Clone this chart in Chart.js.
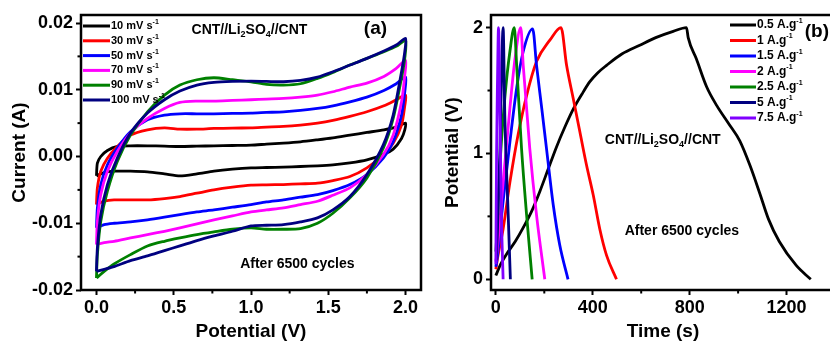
<!DOCTYPE html>
<html>
<head>
<meta charset="utf-8">
<script src="https://cdn.jsdelivr.net/npm/chart.js@4.4.0/dist/chart.umd.min.js"></script>
<style>
  html, body { margin: 0; padding: 0; background: #fff; overflow: hidden; width: 830px; height: 343px; }
  #wrapA { position: absolute; left: 0; top: 0; width: 425px; height: 343px; }
  #wrapB { position: absolute; left: 425px; top: 0; width: 420px; height: 343px; }
</style>
</head>
<body>
<div id="wrapA"><canvas id="cvChart"></canvas></div>
<div id="wrapB"><canvas id="gcdChart"></canvas></div>
<script>
// ---- (a) cyclic voltammetry, potential (V) / current (A) ----
const cvPotentialFwd = [0, 0.006, 0.028, 0.071, 0.135, 0.22, 0.33, 0.44, 0.54, 0.65, 0.76, 0.88, 1.0, 1.1, 1.21, 1.32, 1.43, 1.53, 1.64, 1.75, 1.86, 1.94, 2.0];
const cvPotentialRev = [1.995, 1.974, 1.92, 1.856, 1.75, 1.64, 1.53, 1.43, 1.32, 1.21, 1.1, 1.0, 0.88, 0.76, 0.65, 0.54, 0.44, 0.33, 0.22, 0.114, 0.05, 0];

const cv10Fwd = [-0.0029, -0.0010, 0.0000, 0.0009, 0.0015, 0.0016, 0.0016, 0.00155, 0.0015, 0.00155, 0.0016, 0.00165, 0.0017, 0.00185, 0.0020, 0.0022, 0.0025, 0.0028, 0.0032, 0.0036, 0.0040, 0.0044, 0.0050];
const cv10Rev = [0.0040, 0.0027, 0.0011, 0.0003, -0.0005, -0.00095, -0.00125, -0.0014, -0.0015, -0.0016, -0.00165, -0.0017, -0.0019, -0.0022, -0.0026, -0.0029, -0.0026, -0.0023, -0.0022, -0.0022, -0.0024, -0.0029];
const cv30Fwd = [-0.0072, -0.0047, -0.0022, -0.00025, 0.0015, 0.0032, 0.0040, 0.0043, 0.0041, 0.0041, 0.0042, 0.00425, 0.0043, 0.0044, 0.0045, 0.0047, 0.0050, 0.0054, 0.0060, 0.0067, 0.0076, 0.0085, 0.0092];
const cv30Rev = [0.0076, 0.0047, 0.0020, 0.00025, -0.0017, -0.0030, -0.0036, -0.0040, -0.0041, -0.0042, -0.00425, -0.0043, -0.0046, -0.0050, -0.0055, -0.0060, -0.0063, -0.0065, -0.0065, -0.0065, -0.0067, -0.0072];
const cv50Fwd = [-0.0107, -0.0077, -0.0042, -0.00125, 0.00125, 0.0037, 0.0055, 0.0062, 0.0064, 0.0064, 0.0064, 0.00645, 0.0065, 0.0066, 0.0067, 0.0069, 0.0072, 0.0076, 0.0082, 0.0089, 0.0099, 0.0109, 0.0119];
const cv50Rev = [0.0097, 0.0062, 0.0022, -0.00025, -0.0027, -0.0042, -0.0051, -0.0057, -0.0061, -0.0065, -0.0068, -0.0072, -0.0076, -0.0080, -0.0083, -0.0087, -0.0091, -0.0095, -0.0098, -0.0100, -0.0102, -0.0107];
const cv70Fwd = [-0.0132, -0.0097, -0.0057, -0.0022, 0.00075, 0.0035, 0.0057, 0.0072, 0.0081, 0.0083, 0.0083, 0.0084, 0.0085, 0.0086, 0.0087, 0.0089, 0.0092, 0.0097, 0.0104, 0.0110, 0.0120, 0.0132, 0.0144];
const cv70Rev = [0.0122, 0.0082, 0.0032, 0.00025, -0.0027, -0.0047, -0.0058, -0.0067, -0.0072, -0.0077, -0.0080, -0.0083, -0.0089, -0.0095, -0.0101, -0.0107, -0.0112, -0.0117, -0.0122, -0.0127, -0.0129, -0.0132];
const cv90Fwd = [-0.0182, -0.0147, -0.0097, -0.0052, -0.00075, 0.0032, 0.0067, 0.0092, 0.0107, 0.0115, 0.0118, 0.0115, 0.0112, 0.0108, 0.0107, 0.0109, 0.0117, 0.0126, 0.0137, 0.0147, 0.0157, 0.0165, 0.0174];
const cv90Rev = [0.0147, 0.0118, 0.0057, 0.00125, -0.0032, -0.0062, -0.0085, -0.0100, -0.0108, -0.0109, -0.0109, -0.0107, -0.0109, -0.0113, -0.0117, -0.0122, -0.0127, -0.0134, -0.0147, -0.0161, -0.0172, -0.0182];
const cv100Fwd = [-0.0172, -0.0137, -0.0087, -0.0042, -0.00025, 0.0035, 0.0065, 0.0085, 0.0098, 0.0107, 0.0111, 0.01125, 0.0113, 0.01125, 0.0112, 0.0114, 0.0119, 0.0127, 0.0137, 0.0147, 0.0158, 0.0167, 0.0177];
const cv100Rev = [0.0157, 0.0127, 0.0062, 0.00175, -0.0027, -0.0060, -0.0080, -0.0092, -0.0098, -0.0102, -0.0103, -0.0104, -0.0112, -0.0119, -0.0126, -0.0134, -0.0141, -0.0149, -0.0156, -0.0165, -0.0169, -0.0172];

const cvLabels = ['10 mV s^{-1}', '30 mV s^{-1}', '50 mV s^{-1}', '70 mV s^{-1}', '90 mV s^{-1}', '100 mV s^{-1}'];
const cvFwd = [cv10Fwd, cv30Fwd, cv50Fwd, cv70Fwd, cv90Fwd, cv100Fwd];
const cvRev = [cv10Rev, cv30Rev, cv50Rev, cv70Rev, cv90Rev, cv100Rev];
const cvColors = ['#000000', '#ff0000', '#0000ff', '#ff00ff', '#008000', '#000080'];

const cvTicksV = [0, 0.5, 1, 1.5, 2];
const cvTickLabelsV = ['0.0', '0.5', '1.0', '1.5', '2.0'];
const cvMinorV = [0.25, 0.75, 1.25, 1.75];
const cvTicksI = [-0.02, -0.01, 0, 0.01, 0.02];
const cvTickLabelsI = ['-0.02', '-0.01', '0.00', '0.01', '0.02'];
const cvMinorI = [-0.015, -0.005, 0.005, 0.015];

// ---- (b) galvanostatic charge/discharge, time (s) / potential (V) ----
const gcd05T = [0, 20, 44, 80, 113, 150, 182, 215, 250, 285, 319, 355, 388, 420, 457, 520, 594, 660, 732, 787, 794, 828, 870, 912, 960, 1007, 1050, 1090, 1125, 1170, 1240, 1300];
const gcd05V = [0.03, 0.12, 0.2, 0.3, 0.41, 0.55, 0.70, 0.87, 1.05, 1.21, 1.35, 1.47, 1.57, 1.64, 1.70, 1.79, 1.86, 1.92, 1.97, 2.0, 1.92, 1.75, 1.53, 1.38, 1.24, 1.10, 0.90, 0.68, 0.48, 0.30, 0.11, 0.0];
const gcd1T = [0, 8, 30, 58, 92, 127, 168, 223, 269, 292, 319, 347, 374, 402, 429, 457, 498];
const gcd1V = [0.08, 0.18, 0.40, 0.77, 1.15, 1.46, 1.73, 1.90, 2.0, 1.70, 1.44, 1.17, 0.91, 0.67, 0.40, 0.19, 0.0];
const gcd15T = [0, 5, 30, 58, 86, 113, 152, 168, 190, 209, 237, 264, 298];
const gcd15V = [0.10, 0.16, 0.62, 1.09, 1.52, 1.81, 1.99, 1.70, 1.35, 1.04, 0.59, 0.27, 0.0];
const gcd2T = [0, 5, 30, 58, 79, 103, 113, 140, 168, 202];
const gcd2V = [0.14, 0.22, 0.77, 1.36, 1.75, 2.0, 1.70, 1.04, 0.51, 0.0];
const gcd25T = [0, 3, 17, 37, 58, 76, 86, 106, 127, 150];
const gcd25V = [0.22, 0.32, 0.91, 1.44, 1.81, 2.0, 1.70, 1.04, 0.51, 0.0];
const gcd5T = [2, 5, 17, 26, 30, 37, 51, 60];
const gcd5V = [0.15, 0.3, 1.04, 1.83, 2.0, 1.30, 0.51, 0.0];
const gcd75T = [0, 3, 7, 11, 17, 23, 30];
const gcd75V = [0.12, 1.0, 1.6, 2.0, 1.3, 0.51, 0.0];

const gcdLabels = ['0.5 A.g^{-1}', '1 A.g^{-1}', '1.5 A.g^{-1}', '2 A.g^{-1}', '2.5 A.g^{-1}', '5 A.g^{-1}', '7.5 A.g^{-1}'];
const gcdTimes = [gcd05T, gcd1T, gcd15T, gcd2T, gcd25T, gcd5T, gcd75T];
const gcdPotentials = [gcd05V, gcd1V, gcd15V, gcd2V, gcd25V, gcd5V, gcd75V];
const gcdColors = ['#000000', '#ff0000', '#0000ff', '#ff00ff', '#008000', '#000080', '#8000ff'];

const gcdTicksT = [0, 400, 800, 1200];
const gcdTickLabelsT = ['0', '400', '800', '1200'];
const gcdMinorT = [200, 600, 1000];
const gcdTicksV = [0, 1, 2];
const gcdTickLabelsV = ['0', '1', '2'];
const gcdMinorV = [0.5, 1.5];

const FONT = "'Liberation Sans', Arial, sans-serif";

// text with _{sub} and ^{sup} parts
function richParts(str) {
  const parts = [];
  const re = /([_^])\{([^}]*)\}/g;
  let last = 0, m;
  while ((m = re.exec(str))) {
    if (m.index > last) parts.push({ text: str.slice(last, m.index), mode: '' });
    parts.push({ text: m[2], mode: m[1] });
    last = re.lastIndex;
  }
  if (last < str.length) parts.push({ text: str.slice(last), mode: '' });
  return parts;
}

function drawRich(ctx, str, x, y, size, align) {
  const parts = richParts(str);
  const small = Math.round(size * 0.62);
  let w = 0;
  parts.forEach(p => {
    ctx.font = 'bold ' + (p.mode ? small : size) + 'px ' + FONT;
    p.w = ctx.measureText(p.text).width;
    w += p.w;
  });
  let cx = align === 'center' ? x - w / 2 : x;
  ctx.textAlign = 'left';
  ctx.textBaseline = 'middle';
  parts.forEach(p => {
    ctx.font = 'bold ' + (p.mode ? small : size) + 'px ' + FONT;
    const dy = p.mode === '_' ? size * 0.32 : (p.mode === '^' ? -size * 0.36 : 0);
    ctx.fillText(p.text, cx, y + dy);
    cx += p.w;
  });
}

const decor = {
  id: 'decor',
  afterDraw(chart, args, opts) {
    const { ctx, chartArea: a } = chart;
    const x = chart.scales.x, y = chart.scales.y;
    ctx.save();
    ctx.strokeStyle = '#000';
    ctx.lineWidth = 2;
    opts.minorX.forEach(v => {
      const px = x.getPixelForValue(v);
      ctx.beginPath(); ctx.moveTo(px, a.bottom); ctx.lineTo(px, a.bottom + 3.5); ctx.stroke();
    });
    opts.minorY.forEach(v => {
      const py = y.getPixelForValue(v);
      ctx.beginPath(); ctx.moveTo(a.left, py); ctx.lineTo(a.left - 3.5, py); ctx.stroke();
    });
    ctx.lineWidth = 2.5;
    ctx.strokeRect(a.left, a.top, a.right - a.left, a.bottom - a.top);

    const L = opts.legend;
    chart.data.datasets.forEach((ds, i) => {
      const yy = L.y + i * L.step;
      ctx.strokeStyle = ds.borderColor;
      ctx.lineWidth = 3;
      ctx.beginPath(); ctx.moveTo(L.x, yy); ctx.lineTo(L.x + L.len, yy); ctx.stroke();
      ctx.fillStyle = '#000';
      drawRich(ctx, ds.label, L.x + L.len + 1, yy, L.size, 'left');
    });

    ctx.fillStyle = '#000';
    opts.notes.forEach(n => drawRich(ctx, n.text, x.getPixelForValue(n.x), y.getPixelForValue(n.y), n.size, 'center'));
    ctx.restore();
  }
};

function makeAxis(min, max, values, labels, title, titlePad, fitSize, horizontal) {
  return {
    type: 'linear',
    position: horizontal ? 'bottom' : 'left',
    min: min,
    max: max,
    afterBuildTicks: scale => { scale.ticks = values.map(v => ({ value: v })); },
    afterFit: scale => { if (horizontal) scale.height = fitSize; else scale.width = fitSize; },
    ticks: {
      autoSkip: false,
      maxRotation: 0,
      padding: horizontal ? 2 : 3,
      color: '#000',
      font: { family: FONT, size: 18, weight: 'bold' },
      callback: (value, index) => labels[index]
    },
    grid: { drawOnChartArea: false, drawTicks: true, tickLength: 5, tickWidth: 2, tickColor: '#000' },
    border: { display: false },
    title: {
      display: true,
      text: title,
      color: '#000',
      font: { family: FONT, size: 19, weight: 'bold' },
      padding: titlePad
    }
  };
}

const cvDatasets = cvLabels.map((label, i) => ({
  label: label,
  borderColor: cvColors[i],
  backgroundColor: cvColors[i],
  borderWidth: 2.8,
  pointRadius: 0,
  showLine: true,
  fill: false,
  tension: 0.25,
  order: cvLabels.length - i,
  data: cvPotentialFwd.map((v, k) => ({ x: v, y: cvFwd[i][k] }))
    .concat(cvPotentialRev.map((v, k) => ({ x: v, y: cvRev[i][k] })))
}));

new Chart(document.getElementById('cvChart'), {
  type: 'scatter',
  data: { datasets: cvDatasets },
  options: {
    responsive: true,
    maintainAspectRatio: false,
    animation: false,
    devicePixelRatio: 1,
    layout: { padding: { top: 15, right: 4, left: 0, bottom: 0 } },
    scales: {
      x: makeAxis(-0.1, 2.1, cvTicksV, cvTickLabelsV, 'Potential (V)', { top: 0, bottom: 0 }, 53, true),
      y: makeAxis(-0.02, 0.0212, cvTicksI, cvTickLabelsI, 'Current (A)', { top: 8, bottom: 0 }, 81, false)
    },
    plugins: {
      legend: { display: false },
      tooltip: { enabled: false },
      decor: {
        minorX: cvMinorV,
        minorY: cvMinorI,
        legend: { x: 83, y: 26, step: 14.8, len: 27, size: 11 },
        notes: [
          { text: 'CNT//Li_{2}SO_{4}//CNT', x: 0.99, y: 0.0189, size: 14 },
          { text: '(a)', x: 1.805, y: 0.0192, size: 19 },
          { text: 'After 6500 cycles', x: 1.30, y: -0.0162, size: 14 }
        ]
      }
    }
  },
  plugins: [decor]
});

const gcdDatasets = gcdLabels.map((label, i) => ({
  label: label,
  borderColor: gcdColors[i],
  backgroundColor: gcdColors[i],
  borderWidth: 2.8,
  pointRadius: 0,
  showLine: true,
  fill: false,
  cubicInterpolationMode: 'monotone',
  order: gcdLabels.length - i,
  data: gcdTimes[i].map((t, k) => ({ x: t, y: gcdPotentials[i][k] }))
}));

new Chart(document.getElementById('gcdChart'), {
  type: 'scatter',
  data: { datasets: gcdDatasets },
  options: {
    responsive: true,
    maintainAspectRatio: false,
    animation: false,
    devicePixelRatio: 1,
    layout: { padding: { top: 15, right: 10, left: 0, bottom: 0 } },
    scales: {
      x: makeAxis(-20, 1400, gcdTicksT, gcdTickLabelsT, 'Time (s)', { top: 0, bottom: 0 }, 53, true),
      y: makeAxis(-0.085, 2.1, gcdTicksV, gcdTickLabelsV, 'Potential (V)', { top: 16, bottom: 0 }, 66, false)
    },
    plugins: {
      legend: { display: false },
      tooltip: { enabled: false },
      decor: {
        minorX: gcdMinorT,
        minorY: gcdMinorV,
        legend: { x: 305, y: 25, step: 15.5, len: 26, size: 12 },
        notes: [
          { text: 'CNT//Li_{2}SO_{4}//CNT', x: 689, y: 1.106, size: 14 },
          { text: 'After 6500 cycles', x: 768, y: 0.384, size: 14 },
          { text: '(b)', x: 1325, y: 1.97, size: 19 }
        ]
      }
    }
  },
  plugins: [decor]
});
</script>
</body>
</html>
